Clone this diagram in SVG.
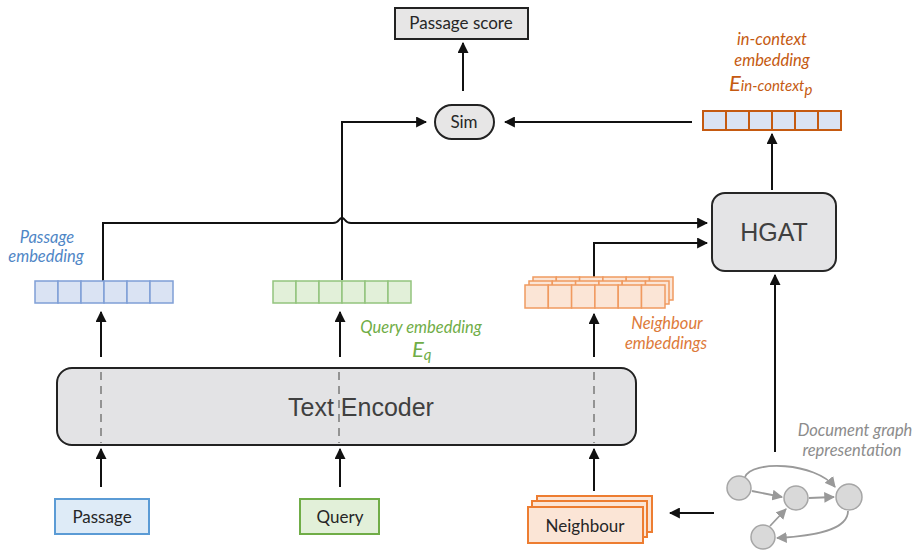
<svg xmlns="http://www.w3.org/2000/svg" width="917" height="553" viewBox="0 0 917 553">
  <defs>
    <marker id="arrow" viewBox="0 0 10 10" refX="9" refY="5" markerWidth="5.5" markerHeight="5.5" orient="auto">
      <path d="M0,0 L10,5 L0,10 z" fill="#111"/>
    </marker>
    <marker id="garrow" viewBox="0 0 10 10" refX="9" refY="5" markerWidth="6" markerHeight="6" orient="auto">
      <path d="M0,0 L10,5 L0,10 z" fill="#999"/>
    </marker>
    <style>
      .conn { fill: none; stroke: #111; stroke-width: 2; }
      .gconn { fill: none; stroke: #9a9a9a; stroke-width: 1.8; }
      .box { stroke-width: 2; }
      .lbl { font-family: Lato, "Open Sans", sans-serif; font-size: 17px; fill: #262626; text-anchor: middle; }
      .ital { font-family: Lato, "Open Sans", sans-serif; font-style: italic; font-size: 16.5px; text-anchor: middle; }
      .big { font-family: "Liberation Sans", Arial, sans-serif; fill: #404040; text-anchor: middle; }
      .dash { stroke: #8a8a8a; stroke-width: 1.8; stroke-dasharray: 8 6; }
      .gnode { fill: #d9d9d9; stroke: #a6a6a6; stroke-width: 1.5; }
    </style>
  </defs>

  <!-- connectors -->
  <g id="connectors">
    <!-- Sim to passage score -->
    <line class="conn" x1="463" y1="91" x2="463" y2="43" marker-end="url(#arrow)"/>
    <!-- query embedding to Sim -->
    <polyline class="conn" points="342,280 342,122 426,122" marker-end="url(#arrow)"/>
    <!-- in-context embedding to Sim -->
    <line class="conn" x1="692" y1="122" x2="505" y2="122" marker-end="url(#arrow)"/>
    <!-- HGAT to in-context embedding -->
    <line class="conn" x1="772" y1="190" x2="772" y2="134" marker-end="url(#arrow)"/>
    <!-- passage embedding to HGAT, hopping over the query line -->
    <path class="conn" d="M103,281 L103,223 L333,223 Q337,223 339,220 Q342,216 345,220 Q347,223 351,223 L707,223" marker-end="url(#arrow)"/>
    <!-- neighbour embeddings to HGAT -->
    <polyline class="conn" points="594,277 594,243 707,243" marker-end="url(#arrow)"/>
    <!-- encoder outputs -->
    <line class="conn" x1="101" y1="357" x2="101" y2="312" marker-end="url(#arrow)"/>
    <line class="conn" x1="340" y1="357" x2="340" y2="312" marker-end="url(#arrow)"/>
    <line class="conn" x1="594" y1="357" x2="594" y2="314" marker-end="url(#arrow)"/>
    <!-- inputs to encoder -->
    <line class="conn" x1="101" y1="487" x2="101" y2="449" marker-end="url(#arrow)"/>
    <line class="conn" x1="340" y1="487" x2="340" y2="449" marker-end="url(#arrow)"/>
    <line class="conn" x1="594" y1="491" x2="594" y2="449" marker-end="url(#arrow)"/>
    <!-- document graph to HGAT and to neighbours -->
    <line class="conn" x1="775" y1="452" x2="775" y2="275" marker-end="url(#arrow)"/>
    <line class="conn" x1="714" y1="513" x2="670" y2="513" marker-end="url(#arrow)"/>
  </g>

  <!-- output -->
  <g id="passage-score">
    <rect class="box" x="395" y="8" width="133" height="31" fill="#e7e6e6" stroke="#222"/>
    <text class="lbl" x="461" y="29">Passage score</text>
  </g>

  <g id="sim">
    <rect class="box" x="435" y="105" width="59" height="34" rx="17" fill="#e7e6e6" stroke="#222"/>
    <text class="lbl" x="464" y="128">Sim</text>
  </g>

  <!-- in-context embedding -->
  <g id="in-context-embedding">
    <text class="ital" x="772" y="45" fill="#c55a11">in-context</text>
    <text class="ital" x="772" y="66" fill="#c55a11">embedding</text>
    <text x="729" y="91" font-family="Lato, 'Open Sans', sans-serif" font-style="italic" font-size="22" fill="#c55a11">E<tspan font-size="15">in-context</tspan><tspan font-size="15" dy="4">p</tspan></text>
    <g fill="#dae3f3" stroke="#c55a11" stroke-width="2">
      <rect x="703" y="111" width="23" height="19"/>
      <rect x="726" y="111" width="23" height="19"/>
      <rect x="749" y="111" width="23" height="19"/>
      <rect x="772" y="111" width="23" height="19"/>
      <rect x="795" y="111" width="23" height="19"/>
      <rect x="818" y="111" width="23" height="19"/>
    </g>
  </g>

  <g id="hgat">
    <rect class="box" x="712" y="193" width="124" height="78" rx="13" fill="#e4e4e6" stroke="#262626"/>
    <text class="big" x="774" y="241" font-size="25">HGAT</text>
  </g>

  <!-- passage embedding -->
  <g id="passage-embedding">
    <text class="ital" x="47" y="243" fill="#4f86c6">Passage</text>
    <text class="ital" x="46" y="262" fill="#4f86c6">embedding</text>
    <g fill="#dae3f3" stroke="#7f9fd6" stroke-width="1.5">
      <rect x="35" y="281" width="23" height="22"/>
      <rect x="58" y="281" width="23" height="22"/>
      <rect x="81" y="281" width="23" height="22"/>
      <rect x="104" y="281" width="23" height="22"/>
      <rect x="127" y="281" width="23" height="22"/>
      <rect x="150" y="281" width="23" height="22"/>
    </g>
  </g>

  <!-- query embedding -->
  <g id="query-embedding">
    <g fill="#e2f0d9" stroke="#93c47d" stroke-width="1.5">
      <rect x="273" y="281" width="23" height="22"/>
      <rect x="296" y="281" width="23" height="22"/>
      <rect x="319" y="281" width="23" height="22"/>
      <rect x="342" y="281" width="23" height="22"/>
      <rect x="365" y="281" width="23" height="22"/>
      <rect x="388" y="281" width="23" height="22"/>
    </g>
    <text class="ital" x="421" y="333" fill="#70ad47">Query embedding</text>
    <text x="412" y="357" font-family="Lato, 'Open Sans', sans-serif" font-style="italic" font-size="22" fill="#70ad47">E<tspan font-size="15" dy="3">q</tspan></text>
  </g>

  <!-- neighbour embeddings: three stacked layers -->
  <g id="neighbour-embeddings" fill="#fbe5d6" stroke="#f09a60" stroke-width="1.5">
    <g transform="translate(8,-8)">
      <rect x="525" y="285" width="23.3" height="23"/>
      <rect x="548.3" y="285" width="23.3" height="23"/>
      <rect x="571.6" y="285" width="23.3" height="23"/>
      <rect x="594.9" y="285" width="23.3" height="23"/>
      <rect x="618.2" y="285" width="23.3" height="23"/>
      <rect x="641.5" y="285" width="23.5" height="23"/>
    </g>
    <g transform="translate(4,-4)">
      <rect x="525" y="285" width="23.3" height="23"/>
      <rect x="548.3" y="285" width="23.3" height="23"/>
      <rect x="571.6" y="285" width="23.3" height="23"/>
      <rect x="594.9" y="285" width="23.3" height="23"/>
      <rect x="618.2" y="285" width="23.3" height="23"/>
      <rect x="641.5" y="285" width="23.5" height="23"/>
    </g>
    <rect x="525" y="285" width="23.3" height="23"/>
    <rect x="548.3" y="285" width="23.3" height="23"/>
    <rect x="571.6" y="285" width="23.3" height="23"/>
    <rect x="594.9" y="285" width="23.3" height="23"/>
    <rect x="618.2" y="285" width="23.3" height="23"/>
    <rect x="641.5" y="285" width="23.5" height="23"/>
  </g>
  <g id="neighbour-embeddings-label">
    <text class="ital" x="667" y="329" font-size="16" fill="#dd7a3a">Neighbour</text>
    <text class="ital" x="666" y="349" font-size="16" fill="#dd7a3a">embeddings</text>
  </g>

  <!-- shared encoder -->
  <g id="text-encoder">
    <rect class="box" x="57" y="368" width="579" height="77" rx="15" fill="#e3e3e5" stroke="#222"/>
    <line class="dash" x1="101" y1="372" x2="101" y2="443"/>
    <line class="dash" x1="339" y1="372" x2="339" y2="443"/>
    <line class="dash" x1="594" y1="372" x2="594" y2="443"/>
    <text class="big" x="361" y="416" font-size="25">Text Encoder</text>
  </g>

  <!-- inputs -->
  <g id="passage">
    <rect class="box" x="55" y="499" width="94" height="35" fill="#deebf7" stroke="#5b9bd5"/>
    <text class="lbl" x="102" y="523" font-size="18">Passage</text>
  </g>

  <g id="query">
    <rect class="box" x="300" y="499" width="79" height="35" fill="#e2f0d9" stroke="#70ad47"/>
    <text class="lbl" x="340" y="523" font-size="18">Query</text>
  </g>

  <g id="neighbour">
    <rect class="box" x="537" y="496" width="115" height="36" fill="#fbe5d6" stroke="#ed7d31"/>
    <rect class="box" x="532" y="501" width="115" height="36" fill="#fbe5d6" stroke="#ed7d31"/>
    <rect class="box" x="528" y="507" width="115" height="36" fill="#fbe5d6" stroke="#ed7d31"/>
    <text class="lbl" x="585" y="532" font-size="18">Neighbour</text>
  </g>

  <!-- document graph -->
  <g id="document-graph">
    <text class="ital" x="855" y="436" fill="#8c8c8c">Document graph</text>
    <text class="ital" x="852" y="456" fill="#8c8c8c">representation</text>
    <path class="gconn" d="M745,477 C752,460 815,462 835,487" marker-end="url(#garrow)"/>
    <line class="gconn" x1="752" y1="491" x2="782" y2="497" marker-end="url(#garrow)"/>
    <line class="gconn" x1="809" y1="498" x2="834" y2="497" marker-end="url(#garrow)"/>
    <path class="gconn" d="M848,511 C848,530 815,536 777,538" marker-end="url(#garrow)"/>
    <line class="gconn" x1="770" y1="526" x2="786" y2="509" marker-end="url(#garrow)"/>
    <circle class="gnode" cx="739" cy="488" r="12"/>
    <circle class="gnode" cx="796" cy="498" r="12"/>
    <circle class="gnode" cx="849" cy="497" r="13"/>
    <circle class="gnode" cx="763" cy="537" r="12"/>
  </g>
</svg>
